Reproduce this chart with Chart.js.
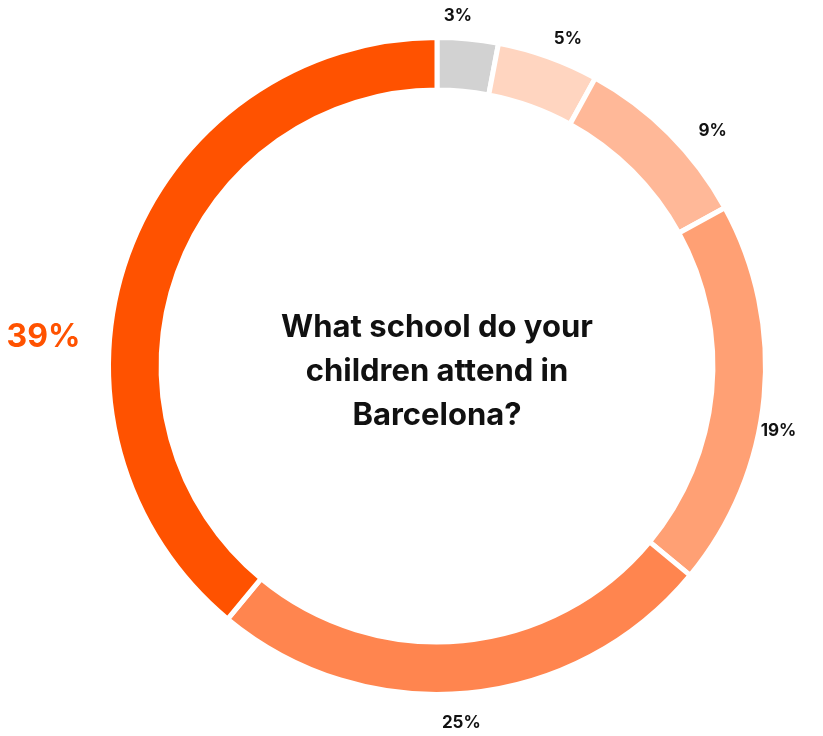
<!DOCTYPE html>
<html>
<head>
<meta charset="utf-8">
<script src="https://cdn.jsdelivr.net/npm/chart.js@4.4.1/dist/chart.umd.min.js"></script>
<style>
  html, body { margin: 0; padding: 0; background: #fff; }
  #wrap { width: 823px; height: 736px; }
</style>
</head>
<body>
<div id="wrap"><canvas id="schoolChart"></canvas></div>
<script>
const categories = ["Other", "Group 5", "Group 4", "Group 3", "Group 2", "Group 1"];
const shares = [3, 5, 9, 19, 25, 39];
const sliceColors = ["#d2d2d2", "#ffd5c0", "#ffb898", "#ffa074", "#ff854f", "#ff5200"];
const titleLines = ["What school do your", "children attend in", "Barcelona?"];

// small angle nudges (deg) and distance past the ring for each % label
const labelShift = [-2, 2, 4.5, 5.3, 1.5, -15.7];
const labelGap = [22, 24, 34, 19, 29, 66];

const FONT = "Inter, 'Open Sans', sans-serif";

const ringLabels = {
  id: "ringLabels",
  afterDatasetsDraw(chart) {
    const ctx = chart.ctx;
    const arcs = chart.getDatasetMeta(0).data;
    ctx.save();
    ctx.textAlign = "center";
    ctx.textBaseline = "middle";
    arcs.forEach((arc, i) => {
      const p = arc.getProps(["x", "y", "startAngle", "endAngle", "outerRadius"], true);
      const a = (p.startAngle + p.endAngle) / 2 + labelShift[i] * Math.PI / 180;
      const r = p.outerRadius + labelGap[i];
      const big = i === shares.length - 1;
      ctx.font = big ? "bold 32px " + FONT : "bold 17px " + FONT;
      ctx.fillStyle = big ? sliceColors[i] : "#111";
      ctx.fillText(shares[i] + "%", p.x + r * Math.cos(a), p.y + r * Math.sin(a));
    });

    // question in the middle of the ring
    const c = arcs[0];
    ctx.font = "bold 31px " + FONT;
    ctx.fillStyle = "#111";
    titleLines.forEach((line, k) => {
      ctx.fillText(line, c.x, c.y - 38 + k * 44);
    });
    ctx.restore();
  }
};

new Chart(document.getElementById("schoolChart"), {
  type: "doughnut",
  data: {
    labels: categories,
    datasets: [
      {
        data: shares,
        backgroundColor: sliceColors,
        borderColor: "#fff",
        borderWidth: 5,
        hoverOffset: 0,
      },
    ],
  },
  options: {
    responsive: true,
    maintainAspectRatio: false,
    animation: false,
    cutout: "84%",
    layout: { padding: { left: 106, right: 55, top: 35, bottom: 39 } },
    plugins: {
      legend: { display: false },
      tooltip: { enabled: false },
    },
  },
  plugins: [ringLabels],
});
</script>
</body>
</html>
